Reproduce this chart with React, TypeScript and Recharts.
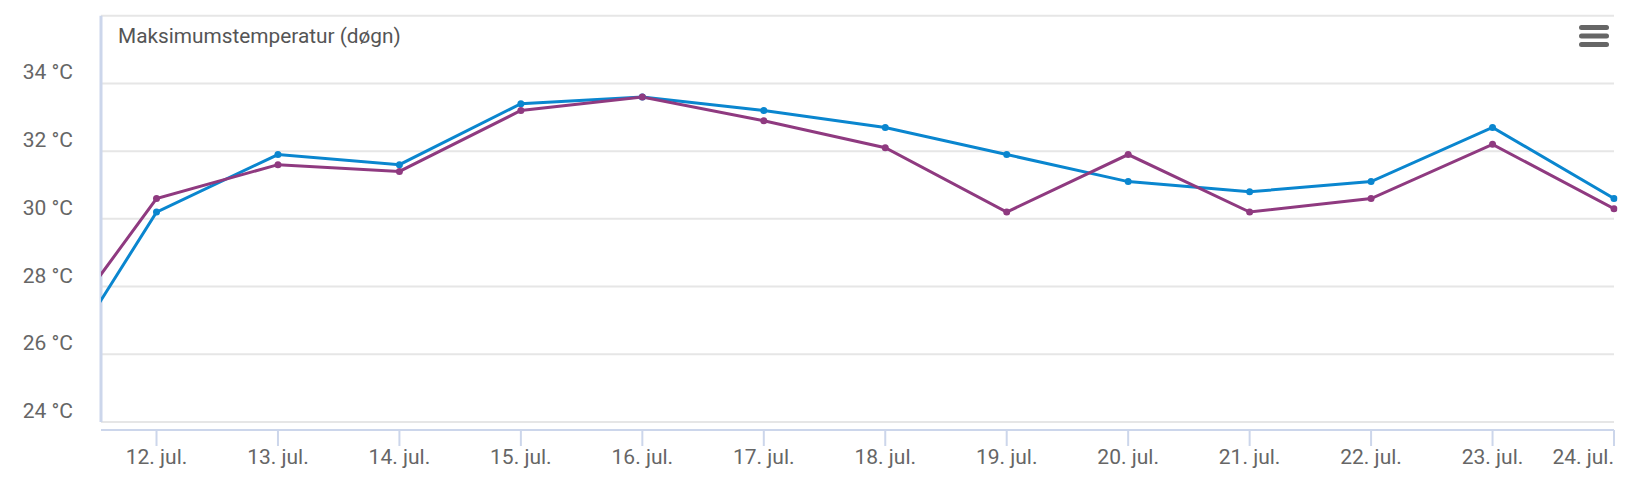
import React from "react";
import {
  LineChart,
  Line,
  XAxis,
  YAxis,
  CartesianGrid,
  ReferenceLine,
} from "recharts";

// days of July, the first one sits just left of the visible range
const days = [11, 12, 13, 14, 15, 16, 17, 18, 19, 20, 21, 22, 23, 24];
const blueValues = [24.5, 30.2, 31.9, 31.6, 33.4, 33.6, 33.2, 32.7, 31.9, 31.1, 30.8, 31.1, 32.7, 30.6];
const purpleValues = [25.7, 30.6, 31.6, 31.4, 33.2, 33.6, 32.9, 32.1, 30.2, 31.9, 30.2, 30.6, 32.2, 30.3];
const xTicks = [12, 13, 14, 15, 16, 17, 18, 19, 20, 21, 22, 23, 24];
const yTicks = [24, 26, 28, 30, 32, 34, 36];
const yLabelTicks = [24, 26, 28, 30, 32, 34];

const X_MIN = 11.543;
const Y_MIN = 23.764;
const BLUE = "#0a86cf";
const PURPLE = "#8f3a80";
const FONT = "Roboto, sans-serif";

const data = days.map((d, i) => ({ day: d, blue: blueValues[i], purple: purpleValues[i] }));

function XTick(props: any) {
  const { x, y, payload } = props;
  const last = payload.value === xTicks[xTicks.length - 1];
  return (
    <text
      x={x}
      y={y + 16}
      textAnchor={last ? "end" : "middle"}
      fill="#666666"
      fontSize={21}
      fontFamily={FONT}
    >
      {`${payload.value}. jul.`}
    </text>
  );
}

function YTick(props: any) {
  const { y, payload } = props;
  if (!yLabelTicks.includes(payload.value)) return null;
  return (
    <text x={73} y={y - 4} textAnchor="end" fill="#666666" fontSize={21} fontFamily={FONT}>
      {`${payload.value} °C`}
    </text>
  );
}

export default function App() {
  return (
    <div style={{ position: "absolute", left: 0, top: 0, width: 1631, height: 483, background: "#fff" }}>
      <LineChart
        width={1631}
        height={483}
        data={data}
        margin={{ top: 15.7, right: 17, bottom: 0, left: 0 }}
      >
        <CartesianGrid vertical={false} stroke="#e6e6e6" strokeWidth={2} />
        <XAxis
          dataKey="day"
          type="number"
          domain={[X_MIN, 24]}
          allowDataOverflow
          ticks={xTicks}
          interval={0}
          height={53}
          axisLine={{ stroke: "#ccd6eb", strokeWidth: 2 }}
          tickLine={{ stroke: "#ccd6eb", strokeWidth: 2 }}
          tickSize={16}
          tick={<XTick />}
        />
        <YAxis
          type="number"
          domain={[Y_MIN, 36]}
          allowDataOverflow
          ticks={yTicks}
          interval={0}
          width={101}
          axisLine={false}
          tickLine={false}
          tick={<YTick />}
        />
        <ReferenceLine
          segment={[
            { x: X_MIN, y: 24 },
            { x: X_MIN, y: 36 },
          ]}
          stroke="#ccd6eb"
          strokeWidth={3}
          ifOverflow="visible"
        />
        <Line
          dataKey="blue"
          stroke={BLUE}
          strokeWidth={3}
          dot={{ r: 3.5, fill: BLUE, stroke: BLUE, strokeWidth: 0, clipDot: false }}
          activeDot={false}
          isAnimationActive={false}
        />
        <Line
          dataKey="purple"
          stroke={PURPLE}
          strokeWidth={3}
          dot={{ r: 3.5, fill: PURPLE, stroke: PURPLE, strokeWidth: 0, clipDot: false }}
          activeDot={false}
          isAnimationActive={false}
        />
      </LineChart>
      <svg
        width={1631}
        height={483}
        style={{ position: "absolute", left: 0, top: 0, pointerEvents: "none" }}
      >
        <text x={118} y={43} fill="#555555" fontSize={20.8} fontFamily={FONT}>
          Maksimumstemperatur (døgn)
        </text>
        <rect x={1579} y={25} width={30} height={5} rx={2.5} fill="#666666" />
        <rect x={1579} y={33.5} width={30} height={5} rx={2.5} fill="#666666" />
        <rect x={1579} y={42} width={30} height={5} rx={2.5} fill="#666666" />
      </svg>
    </div>
  );
}
